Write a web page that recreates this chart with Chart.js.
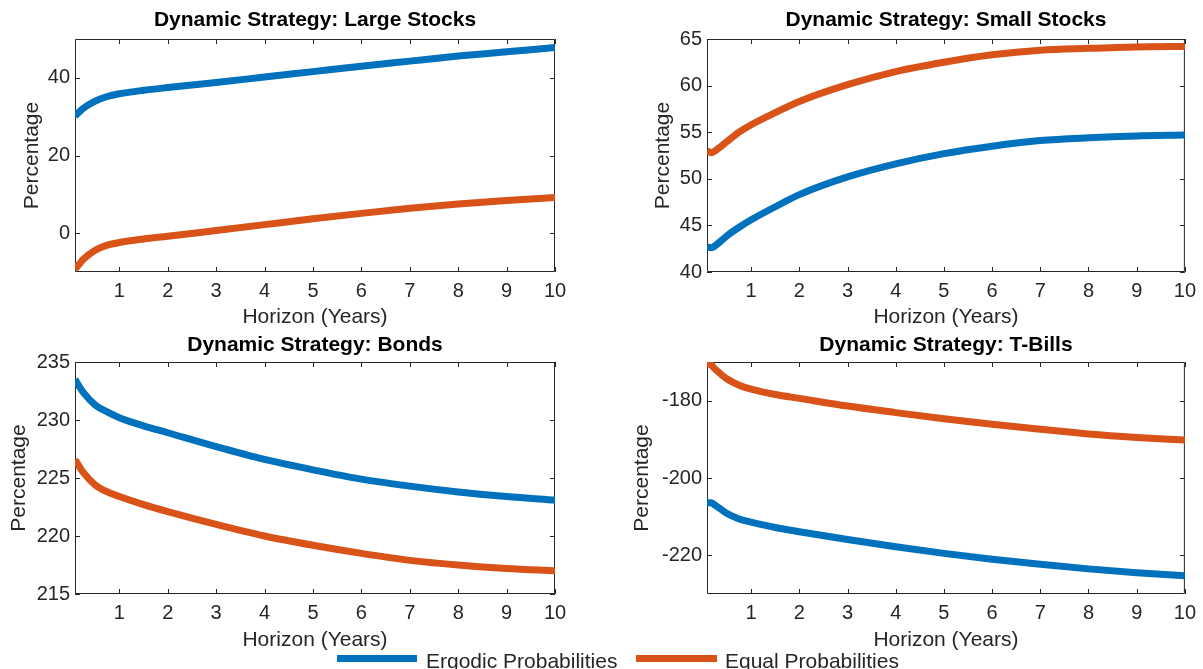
<!DOCTYPE html>
<html>
 <head>
  <title>Dynamic Strategy</title>
  <style>
  body {
   margin: 0;
   width: 1203px;
   height: 669px;
   overflow: hidden;
   background: #fff;
   font-family: "Liberation Sans", Arial, sans-serif;
  }
  canvas {
   position: absolute;
  }
  .key {
   position: absolute;
   height: 7px;
   top: 655px;
  }
  .keytext {
   position: absolute;
   top: 650px;
   font-size: 21px;
   line-height: 21px;
   color: #262626;
   white-space: nowrap;
  }
  </style>
 </head>
 <body>
 <canvas id="chart-large" width="600" height="335" style="left:0;top:0"></canvas>
 <canvas id="chart-small" width="603" height="335" style="left:600px;top:0"></canvas>
 <canvas id="chart-bonds" width="600" height="339" style="left:0;top:330px"></canvas>
 <canvas id="chart-bills" width="603" height="339" style="left:600px;top:330px"></canvas>

 <div class="key" style="left:337px;width:80px;background:#0072BD"></div>
 <div class="keytext" style="left:426px">Ergodic Probabilities</div>
 <div class="key" style="left:636px;width:81px;background:#D95319"></div>
 <div class="keytext" style="left:725px">Equal Probabilities</div>

 <script src="https://cdn.jsdelivr.net/npm/chart.js@4.4.1/dist/chart.umd.min.js"></script>
 <script>
 // horizon in years (first point = 1 month)
 const horizon = [0.0833, 0.17, 0.25, 0.5, 0.75, 1, 1.5, 2, 3, 4, 5, 6, 7, 8, 9, 10];
 const xTicks = [1, 2, 3, 4, 5, 6, 7, 8, 9, 10];

 // Large stocks
 const largeErgodic = [30.2, 31.2, 32.1, 34.0, 35.2, 35.9, 36.8, 37.5, 38.8, 40.2, 41.6, 43.0, 44.3, 45.6, 46.7, 47.8];
 const largeEqual = [-9.3, -8.0, -6.8, -4.4, -3.1, -2.4, -1.5, -0.8, 0.7, 2.2, 3.7, 5.1, 6.4, 7.5, 8.4, 9.2];
 const largeTicks = [0, 20, 40];

 // Small stocks
 const smallErgodic = [42.7, 42.6, 42.8, 43.9, 44.8, 45.6, 47.0, 48.3, 50.2, 51.6, 52.7, 53.5, 54.1, 54.4, 54.6, 54.7];
 const smallEqual = [53.0, 52.8, 53.0, 54.0, 55.0, 55.8, 57.1, 58.3, 60.1, 61.5, 62.5, 63.3, 63.8, 64.0, 64.15, 64.2];
 const smallTicks = [40, 45, 50, 55, 60, 65];

 // Bonds
 const bondsErgodic = [233.5, 232.9, 232.4, 231.3, 230.7, 230.2, 229.5, 228.9, 227.7, 226.6, 225.7, 224.9, 224.3, 223.8, 223.4, 223.1];
 const bondsEqual = [226.6, 226.0, 225.5, 224.4, 223.8, 223.4, 222.7, 222.1, 221.0, 220.0, 219.2, 218.5, 217.9, 217.5, 217.2, 217.0];
 const bondsTicks = [215, 220, 225, 230, 235];

 // T-Bills
 const billsErgodic = [-206.4, -206.4, -207.0, -209.2, -210.6, -211.4, -212.8, -213.9, -215.9, -217.8, -219.5, -221.0, -222.3, -223.5, -224.5, -225.3];
 const billsEqual = [-170.3, -170.8, -171.8, -174.4, -176.0, -177.0, -178.4, -179.4, -181.4, -183.1, -184.7, -186.1, -187.4, -188.6, -189.5, -190.2];
 const billsTicks = [-220, -200, -180];

 const BLUE = '#0072BD';
 const ORANGE = '#D95319';
 const AXIS = '#262626';
 const FONT = '"Liberation Sans", Arial, sans-serif';

 // matlab style box with inward ticks on all sides
 const boxTicks = {
  id: 'boxTicks',
  beforeDatasetsDraw(chart) {
   const {ctx, chartArea: a, scales: {x, y}} = chart;
   const tl = 5;
   ctx.save();
   ctx.strokeStyle = AXIS;
   ctx.lineWidth = 1;
   ctx.beginPath();
   ctx.rect(a.left + 0.5, a.top + 0.5, a.right - a.left - 1, a.bottom - a.top - 1);
   x.ticks.forEach(t => {
    const px = Math.round(x.getPixelForValue(t.value)) + 0.5;
    ctx.moveTo(px, a.bottom); ctx.lineTo(px, a.bottom - tl);
    ctx.moveTo(px, a.top); ctx.lineTo(px, a.top + tl);
   });
   y.ticks.forEach(t => {
    const py = Math.round(y.getPixelForValue(t.value)) + 0.5;
    ctx.moveTo(a.left, py); ctx.lineTo(a.left + tl, py);
    ctx.moveTo(a.right, py); ctx.lineTo(a.right - tl, py);
   });
   ctx.stroke();
   ctx.restore();
  }
 };

 function series(vals) {
  return horizon.map((h, i) => ({x: h, y: vals[i]}));
 }

 function makePanel(id, p) {
  const ctx = document.getElementById(id).getContext('2d');
  return new Chart(ctx, {
   type: 'line',
   data: {
    datasets: [{
     label: 'Ergodic Probabilities',
     data: series(p.ergodic),
     borderColor: BLUE,
     borderWidth: 7,
     pointRadius: 0,
     cubicInterpolationMode: 'monotone',
     fill: false
    }, {
     label: 'Equal Probabilities',
     data: series(p.equal),
     borderColor: ORANGE,
     borderWidth: 7,
     pointRadius: 0,
     cubicInterpolationMode: 'monotone',
     fill: false
    }]
   },
   options: {
    responsive: false,
    animation: false,
    devicePixelRatio: 1,
    layout: {padding: {left: 0, right: p.padRight, top: 0, bottom: 0}},
    plugins: {
     legend: {display: false},
     tooltip: {enabled: false},
     title: {
      display: true,
      fullSize: false,
      text: p.title,
      color: '#000',
      font: {family: FONT, size: 21, weight: 'bold'},
      padding: {top: p.titleTop, bottom: p.titleBottom}
     }
    },
    scales: {
     x: {
      type: 'linear',
      min: horizon[0],
      max: 10,
      afterBuildTicks: s => { s.ticks = xTicks.map(v => ({value: v})); },
      afterFit: s => { s.height = p.xHeight; },
      grid: {display: false, drawTicks: false, tickLength: 0},
      border: {display: false},
      ticks: {
       color: AXIS,
       padding: 7,
       maxRotation: 0,
       font: {family: FONT, size: 20},
       callback: v => String(v)
      },
      title: {
       display: true,
       text: 'Horizon (Years)',
       color: AXIS,
       font: {family: FONT, size: 21},
       padding: {top: 0, bottom: p.xTitleBottom}
      }
     },
     y: {
      type: 'linear',
      min: p.ymin,
      max: p.ymax,
      afterBuildTicks: s => { s.ticks = p.yTicks.map(v => ({value: v})); },
      afterFit: s => { s.width = p.yWidth; },
      grid: {display: false, drawTicks: false, tickLength: 0},
      border: {display: false},
      ticks: {
       color: AXIS,
       padding: 5,
       font: {family: FONT, size: 20},
       callback: v => String(v)
      },
      title: {
       display: true,
       text: 'Percentage',
       color: AXIS,
       font: {family: FONT, size: 21},
       padding: {top: p.yTitleTop, bottom: 0}
      }
     }
    }
   },
   plugins: [boxTicks]
  });
 }

 makePanel('chart-large', {
  title: 'Dynamic Strategy: Large Stocks',
  ergodic: largeErgodic, equal: largeEqual, yTicks: largeTicks,
  ymin: -10, ymax: 50,
  padRight: 45, yWidth: 75, yTitleTop: 19.4,
  titleTop: 7.4, titleBottom: 6.4, xHeight: 63, xTitleBottom: 5.4
 });
 makePanel('chart-small', {
  title: 'Dynamic Strategy: Small Stocks',
  ergodic: smallErgodic, equal: smallEqual, yTicks: smallTicks,
  ymin: 40, ymax: 65,
  padRight: 14, yWidth: 107, yTitleTop: 50.4,
  titleTop: 7.4, titleBottom: 6.4, xHeight: 63, xTitleBottom: 5.4
 });
 makePanel('chart-bonds', {
  title: 'Dynamic Strategy: Bonds',
  ergodic: bondsErgodic, equal: bondsEqual, yTicks: bondsTicks,
  ymin: 215, ymax: 235,
  padRight: 45, yWidth: 75, yTitleTop: 6.4,
  titleTop: 2.4, titleBottom: 4.4, xHeight: 75, xTitleBottom: 16.4
 });
 makePanel('chart-bills', {
  title: 'Dynamic Strategy: T-Bills',
  ergodic: billsErgodic, equal: billsEqual, yTicks: billsTicks,
  ymin: -230, ymax: -170,
  padRight: 14, yWidth: 107, yTitleTop: 29.4,
  titleTop: 2.4, titleBottom: 4.4, xHeight: 75, xTitleBottom: 16.4
 });
 </script>
 </body>
</html>
